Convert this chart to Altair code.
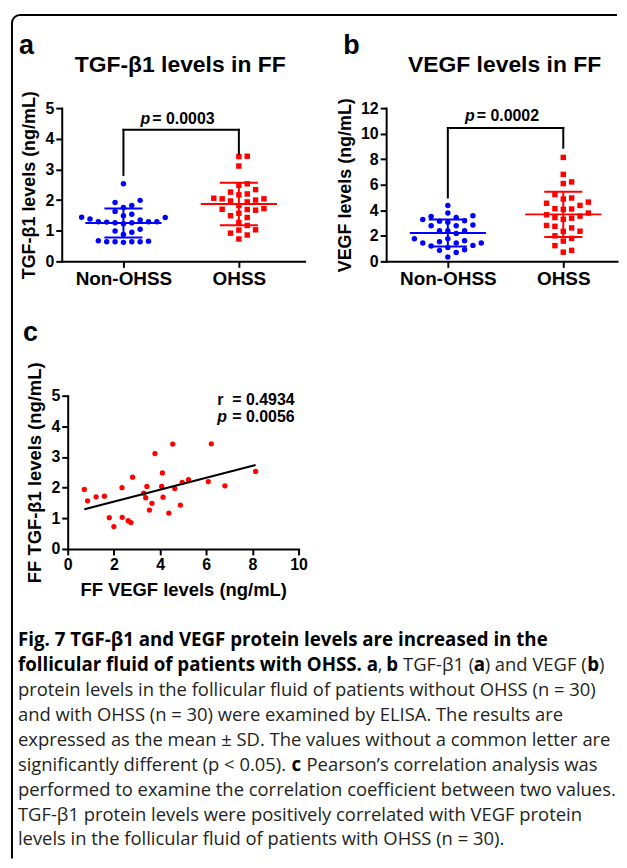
import math
import altair as alt
import pandas as pd

# ---------------- data ----------------
groups = ["Non-OHSS", "OHSS"]

# TGF-b1 (ng/mL), follicular fluid, non-OHSS patients (panel a, blue)
tgf_non = [2.53, 1.99, 1.92, 1.82, 1.76, 1.63, 1.54, 1.49, 1.38, 1.43,
           1.44, 1.35, 1.29, 1.29, 1.26, 1.28, 1.29, 1.26, 1.23, 0.99,
           1.05, 0.95, 0.88, 0.64, 0.64, 0.64, 0.66, 0.64, 0.67, 0.62]

# VEGF (ng/mL), follicular fluid, non-OHSS patients (panel b, blue)
vegf_non = [4.38, 3.78, 3.57, 3.52, 3.28, 3.44, 3.18, 3.15, 3.07, 2.79,
            2.79, 2.84, 2.40, 2.40, 2.40, 2.19, 1.61, 1.77, 1.77, 1.43,
            1.43, 1.43, 1.54, 1.20, 1.09, 0.91, 0.86, 1.25, 0.70, 0.34]

# OHSS patients: paired VEGF / TGF-b1 (panels a, b red and panel c)
vegf_ohss = [0.72, 0.86, 1.23, 1.59, 1.80, 2.00, 2.35, 2.36, 2.62, 2.74,
             2.81, 3.29, 3.38, 3.43, 3.54, 3.65, 3.78, 4.07, 4.10, 4.13,
             4.38, 4.55, 4.64, 4.88, 4.96, 5.23, 6.09, 6.22, 6.81, 8.14]
tgf_ohss = [1.94, 1.57, 1.70, 1.72, 1.02, 0.73, 2.00, 1.03, 0.92, 0.86,
            2.34, 1.82, 1.67, 2.04, 1.27, 1.49, 3.11, 2.04, 2.48, 1.69,
            1.17, 3.42, 1.97, 1.43, 2.17, 2.26, 2.20, 3.43, 2.06, 2.53]

NB = "\u00a0"
# annotations
a_bracket, a_legs, a_p_y, a_p = 4.29, [2.82, 3.52], 4.64, NB + "= 0.0003"
b_bracket, b_legs, b_p_y, b_p = 10.44, [5.0, 8.9], 11.35, NB + "= 0.0002"
c_r_y, c_p_y, c_r, c_p = 4.87, 4.29, "r" + NB + NB + "= 0.4934", NB + "= 0.0056"

AXF = "Liberation Sans"
CAPF = "Open Sans"
CAP_SIZE = 18.5
CAP_BOLD = 18.8
DUMMY = pd.DataFrame({"d": [0]})
PX_PER_GROUP = 116.0


def swarm(vals, ppu_y, dist=7.6, step=8.4):
    """Deterministic beeswarm offsets (in group units) for a scatter-dot plot."""
    n = len(vals)
    order = sorted(range(n), key=lambda i: vals[i])
    cands = [0.0]
    for k in range(1, 15):
        cands += [k * step, -k * step]
    placed, offs = [], [0.0] * n
    for i in order:
        y = vals[i] * ppu_y
        chosen = cands[-1]
        for c in cands:
            if all((c - px) ** 2 + (y - py) ** 2 >= dist ** 2 for px, py in placed):
                chosen = c
                break
        placed.append((chosen, y))
        offs[i] = chosen / PX_PER_GROUP
    return offs


def txt(text, x, y, size, weight="bold", align="left", style="normal",
        font=AXF, color="black", baseline="alphabetic"):
    return alt.Chart(DUMMY).mark_text(
        text=text, fontSize=size, fontWeight=weight, fontStyle=style, font=font,
        align=align, baseline=baseline, color=color
    ).encode(x=alt.value(x), y=alt.value(y))


def dot_panel(non, ohss, ymax, yvals, ytitle, width, ppu_y, bracket, legs,
              p_y, p_rest, title, title_x, letter, extra=()):
    df = pd.DataFrame({
        "grp": [groups[0]] * len(non) + [groups[1]] * len(ohss),
        "gi": [0] * len(non) + [1] * len(ohss),
        "val": non + ohss,
        "off": swarm(non, ppu_y) + swarm(ohss, ppu_y),
    })
    xs = alt.Scale(domain=[-62 / PX_PER_GROUP, (width - 62) / PX_PER_GROUP], nice=False, zero=False)
    ys = alt.Scale(domain=[0, ymax], nice=False, zero=True)
    xaxis = alt.Axis(values=[0, 1], labelExpr="datum.value == 0 ? 'Non-OHSS' : 'OHSS'",
                     labelFontSize=19, labelPadding=2, title="")
    yaxis = alt.Axis(values=yvals, format="d", labelFontSize=16, labelPadding=2,
                     title=ytitle, titleFontSize=18, titlePadding=6)

    def X(f):
        return alt.X(f, scale=xs, axis=xaxis)

    def Y(f):
        return alt.Y(f, scale=ys, axis=yaxis)

    color = alt.Color("grp:N", scale=alt.Scale(domain=groups, range=["#0000ff", "#ff0000"]), legend=None)
    base = alt.Chart(df)
    pts = base.transform_calculate(xpos="datum.gi + datum.off").mark_point(
        filled=True, size=30, opacity=1, strokeWidth=0
    ).encode(
        x=X("xpos:Q"), y=Y("val:Q"), color=color,
        shape=alt.Shape("grp:N", scale=alt.Scale(domain=groups, range=["circle", "square"]), legend=None),
    )
    stats = base.transform_aggregate(
        m="mean(val)", s="stdev(val)", groupby=["grp", "gi"]
    ).transform_calculate(
        lo="datum.m - datum.s", hi="datum.m + datum.s",
        a1="datum.gi - 0.33", a2="datum.gi + 0.33",
        c1="datum.gi - 0.165", c2="datum.gi + 0.165",
    )
    mean_r = stats.mark_rule(strokeWidth=2).encode(x=X("a1:Q"), x2="a2:Q", y=Y("m:Q"), color=color)
    lo_r = stats.mark_rule(strokeWidth=2).encode(x=X("c1:Q"), x2="c2:Q", y=Y("lo:Q"), color=color)
    hi_r = stats.mark_rule(strokeWidth=2).encode(x=X("c1:Q"), x2="c2:Q", y=Y("hi:Q"), color=color)
    v_r = stats.mark_rule(strokeWidth=2).encode(x=X("gi:Q"), y=Y("lo:Q"), y2="hi:Q", color=color)

    legs_df = pd.DataFrame({"gi": [0, 1], "lo": legs, "top": [bracket, bracket]})
    top_df = pd.DataFrame({"x1": [0], "x2": [1], "y": [bracket]})
    legs_r = alt.Chart(legs_df).mark_rule(color="black", strokeWidth=2, strokeCap="square").encode(
        x=X("gi:Q"), y=Y("lo:Q"), y2="top:Q")
    top_r = alt.Chart(top_df).mark_rule(color="black", strokeWidth=2, strokeCap="square").encode(
        x=X("x1:Q"), x2="x2:Q", y=Y("y:Q"))

    p_df = pd.DataFrame({"x": [0.5], "y": [p_y]})
    p1 = alt.Chart(p_df).mark_text(text="p", font=AXF, fontSize=16, fontWeight="bold", fontStyle="italic",
                                   align="right", baseline="middle", dx=-31, color="black").encode(
        x=X("x:Q"), y=Y("y:Q"))
    p2 = alt.Chart(p_df).mark_text(text=p_rest, font=AXF, fontSize=16, fontWeight="bold",
                                   align="left", baseline="middle", dx=-29, color="black").encode(
        x=X("x:Q"), y=Y("y:Q"))

    layers = [pts, mean_r, lo_r, hi_r, v_r, legs_r, top_r, p1, p2,
              txt(title, title_x, -36, 23, align="center"),
              txt(letter, -43, -54, 27)] + list(extra)
    return alt.layer(*layers).properties(width=width, height=154)


# frame (rounded top-left border of the figure box)
frame = [
    alt.Chart(DUMMY).mark_rule(color="black", strokeWidth=2).encode(
        x=alt.value(-50), y=alt.value(-85.5), y2=alt.value(754)),
    alt.Chart(DUMMY).mark_rule(color="black", strokeWidth=2).encode(
        x=alt.value(-42), x2=alt.value(558), y=alt.value(-93.5)),
    alt.Chart(DUMMY).mark_arc(innerRadius=7, outerRadius=9, theta=3 * math.pi / 2,
                              theta2=2 * math.pi, color="black").encode(
        x=alt.value(-42), y=alt.value(-85.5)),
]

panel_a = dot_panel(tgf_non, tgf_ohss, 5, [0, 1, 2, 3, 4, 5], "TGF-β1 levels (ng/mL)", 244, 30.8,
                    a_bracket, a_legs, a_p_y, a_p, "TGF-β1 levels in FF", 119, "a", extra=frame)
panel_b = dot_panel(vegf_non, vegf_ohss, 12, [0, 2, 4, 6, 8, 10, 12], "VEGF levels (ng/mL)", 232, 12.83,
                    b_bracket, b_legs, b_p_y, b_p, "VEGF levels in FF", 119, "b")

# ---------------- panel c ----------------
dfc = pd.DataFrame({"vegf": vegf_ohss, "tgf": tgf_ohss})
xs_c = alt.Scale(domain=[0, 10], nice=False, zero=True)
ys_c = alt.Scale(domain=[0, 5], nice=False, zero=True)
xax_c = alt.Axis(values=[0, 2, 4, 6, 8, 10], format="d", labelFontSize=16, labelPadding=2,
                 title="FF VEGF levels (ng/mL)", titleFontSize=18.5, titlePadding=8)
yax_c = alt.Axis(values=[0, 1, 2, 3, 4, 5], format="d", labelFontSize=16, labelPadding=2,
                 title="FF TGF-β1 levels (ng/mL)", titleFontSize=18.5, titlePadding=6)


def XC(f):
    return alt.X(f, scale=xs_c, axis=xax_c)


def YC(f):
    return alt.Y(f, scale=ys_c, axis=yax_c)


pts_c = alt.Chart(dfc).mark_circle(size=28, color="#ff0000", opacity=1).encode(x=XC("vegf:Q"), y=YC("tgf:Q"))
reg_c = alt.Chart(dfc).transform_regression("vegf", "tgf").mark_line(color="black", strokeWidth=2).encode(
    x=XC("vegf:Q"), y=YC("tgf:Q"))
ann_r = pd.DataFrame({"x": [10], "y": [c_r_y]})
ann_p = pd.DataFrame({"x": [10], "y": [c_p_y]})
r_t = alt.Chart(ann_r).mark_text(text=c_r, font=AXF, fontSize=16, fontWeight="bold", align="right",
                                 baseline="middle", dx=-4, color="black").encode(x=XC("x:Q"), y=YC("y:Q"))
p_t1 = alt.Chart(ann_p).mark_text(text="p", font=AXF, fontSize=16, fontWeight="bold", fontStyle="italic",
                                  align="right", baseline="middle", dx=-72, color="black").encode(
    x=XC("x:Q"), y=YC("y:Q"))
p_t2 = alt.Chart(ann_p).mark_text(text=c_p, font=AXF, fontSize=16, fontWeight="bold", align="right",
                                  baseline="middle", dx=-4, color="black").encode(x=XC("x:Q"), y=YC("y:Q"))
panel_c = alt.layer(pts_c, reg_c, r_t, p_t1, p_t2, txt("c", -45, -55, 27)).properties(width=232, height=154)

# ---------------- caption (placed in the grid cell right of panel c; origin = page (387, 395)) ----------------
CX, CY = 387, 395
cap_lines = [
    [("Fig. 7 TGF-β1 and VEGF protein levels are increased in the", 17, "bold")],
    [("follicular fluid of patients with OHSS. a", 17, "bold"), (",", 378.5, "normal"), ("b", 387, "bold"),
     ("TGF-β1 (", 404, "normal"), ("a", 475, "bold"), (") and VEGF (", 486, "normal"),
     ("b", 589, "bold"), (")", 601, "normal")],
    [("protein levels in the follicular fluid of patients without OHSS (n = 30)", 17, "normal")],
    [("and with OHSS (n = 30) were examined by ELISA. The results are", 17, "normal")],
    [("expressed as the mean ± SD. The values without a common letter are", 17, "normal")],
    [("significantly different (p < 0.05).", 17, "normal"), ("c", 292, "bold"),
     ("Pearson’s correlation analysis was", 307, "normal")],
    [("performed to examine the correlation coefficient between two values.", 17, "normal")],
    [("TGF-β1 protein levels were positively correlated with VEGF protein", 17, "normal")],
    [("levels in the follicular fluid of patients with OHSS (n = 30).", 17, "normal")],
]
cap_layers = []
for i, segs in enumerate(cap_lines):
    for text, px, w in segs:
        cap_layers.append(txt(text, px - CX, 647 + 25.0 * i - CY,
                              CAP_BOLD if w == "bold" else CAP_SIZE, weight=w, font=CAPF,
                              color="black" if w == "bold" else "#231f20"))
caption = alt.layer(*cap_layers).properties(width=232, height=154)

chart = alt.concat(
    panel_a, panel_b, panel_c, caption,
    columns=2, spacing={"row": 135, "column": 82}, bounds="flush", center=True,
).properties(
    padding={"left": 2, "top": 3.5, "right": 0, "bottom": 0}
).configure_axis(
    labelFont=AXF, labelFontWeight="bold", labelColor="black",
    titleFont=AXF, titleFontWeight="bold", titleColor="black",
    domainColor="black", domainWidth=2, domainCap="square",
    tickColor="black", tickWidth=2, tickSize=6, grid=False, labelFlush=False,
).configure_view(stroke="transparent")

chart.save("out.html", embed_options={"renderer": "svg", "actions": False})
